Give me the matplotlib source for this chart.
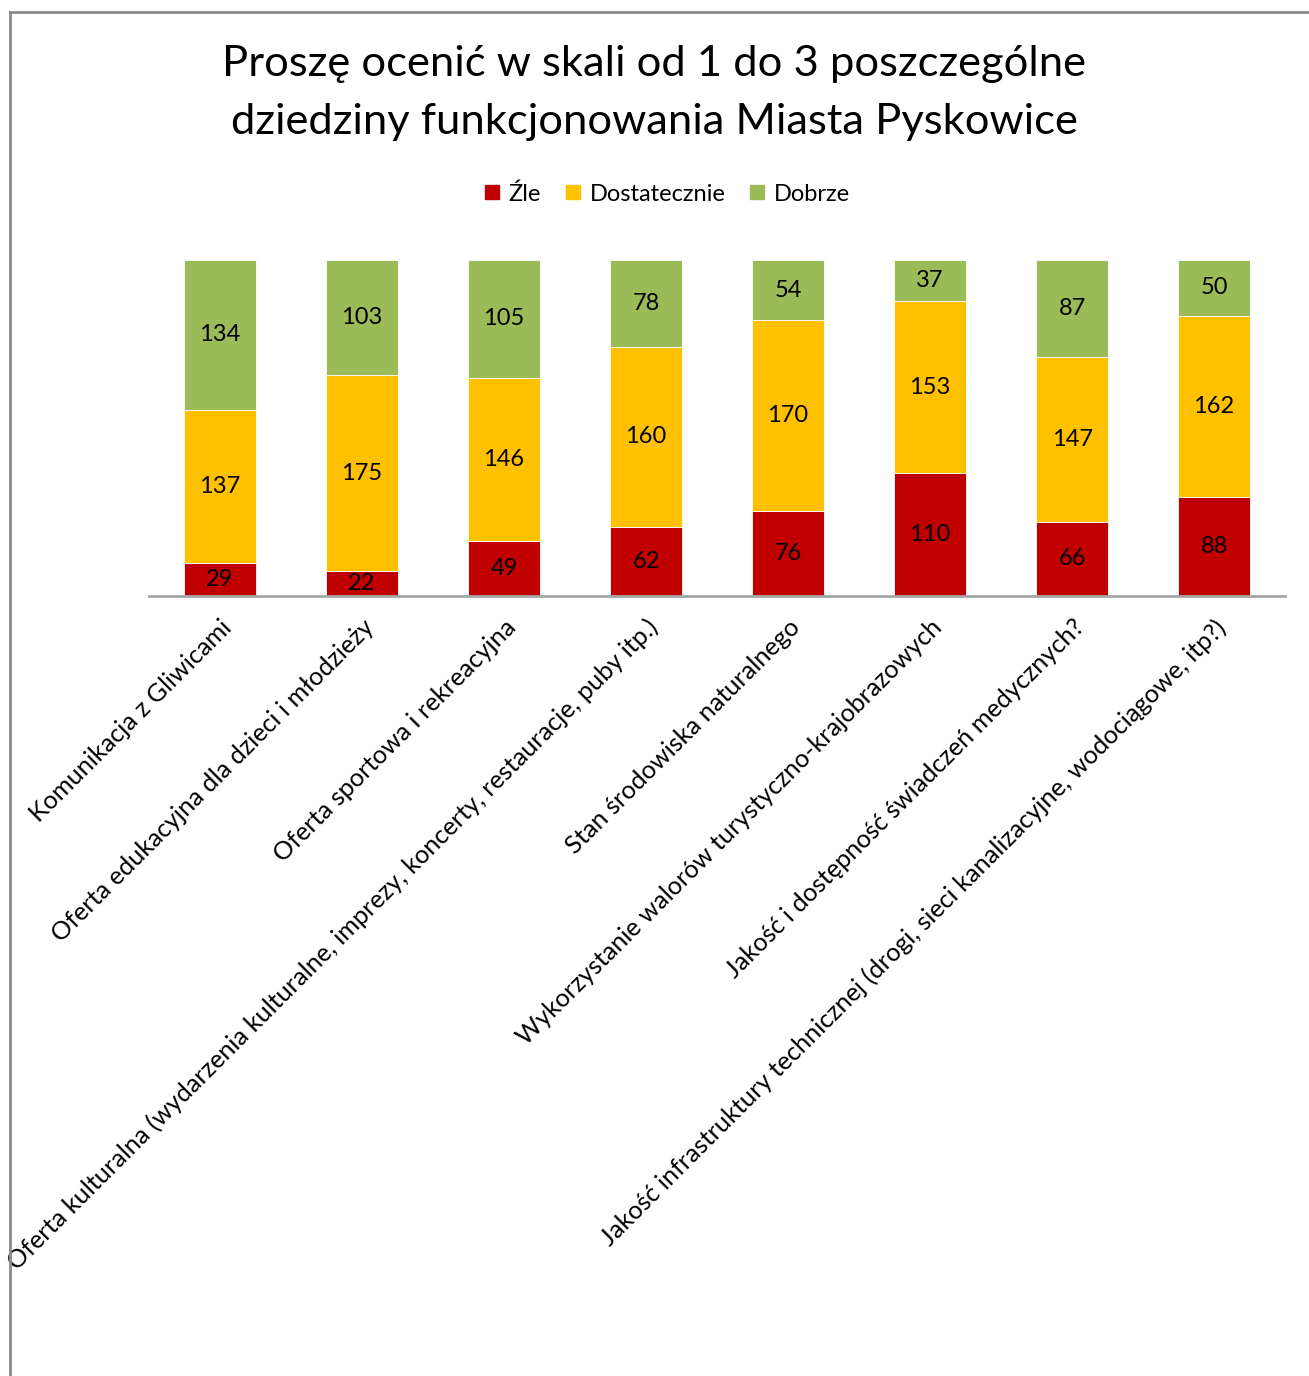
import matplotlib
matplotlib.use("Agg")
from matplotlib import pyplot as plt
from matplotlib.lines import Line2D
import numpy as np

categories = [
    "Komunikacja z Gliwicami",
    "Oferta edukacyjna dla dzieci i młodzieży",
    "Oferta sportowa i rekreacyjna",
    "Oferta kulturalna (wydarzenia kulturalne, imprezy, koncerty, restauracje, puby itp.)",
    "Stan środowiska naturalnego",
    "Wykorzystanie walorów turystyczno-krajobrazowych",
    "Jakość i dostępność świadczeń medycznych?",
    "Jakość infrastruktury technicznej (drogi, sieci kanalizacyjne, wodociągowe, itp?)",
]
zle = [29, 22, 49, 62, 76, 110, 66, 88]
dostatecznie = [137, 175, 146, 160, 170, 153, 147, 162]
dobrze = [134, 103, 105, 78, 54, 37, 87, 50]

series = [("Źle", zle, "#C00000"),
          ("Dostatecznie", dostatecznie, "#FFC000"),
          ("Dobrze", dobrze, "#9BBB59")]

plt.rcParams['font.family'] = ['Lato', 'DejaVu Sans']

fig = plt.figure(figsize=(13.09, 13.76), dpi=100)
ax = fig.add_axes([0.1138, 0.5669, 0.8679, 0.2442])

x = np.arange(len(categories))
bottom = np.zeros(len(categories))
for name, vals, color in series:
    vals = np.array(vals)
    ax.bar(x, vals, width=0.51, bottom=bottom, color=color,
           edgecolor="white", linewidth=0.6, label=name)
    for xi, b, v in zip(x, bottom, vals):
        ax.text(xi, b + v / 2, str(v), ha="center", va="center", fontsize=17)
    bottom += vals

ax.set_xlim(-0.5, len(categories) - 0.5)
ax.set_ylim(0, bottom.max())
for s in ["top", "right", "left"]:
    ax.spines[s].set_visible(False)
ax.spines["bottom"].set_color("#A6A6A6")
ax.spines["bottom"].set_linewidth(2)
ax.set_yticks([])
ax.set_xticks(x)
ax.set_xticklabels(categories, rotation=45, ha="right", rotation_mode="anchor",
                   fontsize=18.2)
ax.tick_params(axis="x", length=0, pad=14)

fig.text(0.5, 1 - 93 / 1376,
         "Proszę ocenić w skali od 1 do 3 poszczególne\ndziedziny funkcjonowania Miasta Pyskowice",
         ha="center", va="center", fontsize=31.3, linespacing=1.63)

handles = [Line2D([], [], marker="s", linestyle="none", markersize=10,
                  color=c, label=n) for n, _, c in series]
fig.legend(handles=handles, loc="center", bbox_to_anchor=(667 / 1309, 1 - 194 / 1376),
           ncol=3, frameon=False, fontsize=17, handlelength=0.7,
           handletextpad=0.35, columnspacing=1.0)

# chart frame
fig.add_artist(Line2D([10 / 1309, 10 / 1309], [0, 1 - 12 / 1376],
                      transform=fig.transFigure, color="#8C8C8C", linewidth=2))
fig.add_artist(Line2D([10 / 1309, 1], [1 - 12 / 1376, 1 - 12 / 1376],
                      transform=fig.transFigure, color="#8C8C8C", linewidth=2))

fig.savefig("out.png", dpi=100)
